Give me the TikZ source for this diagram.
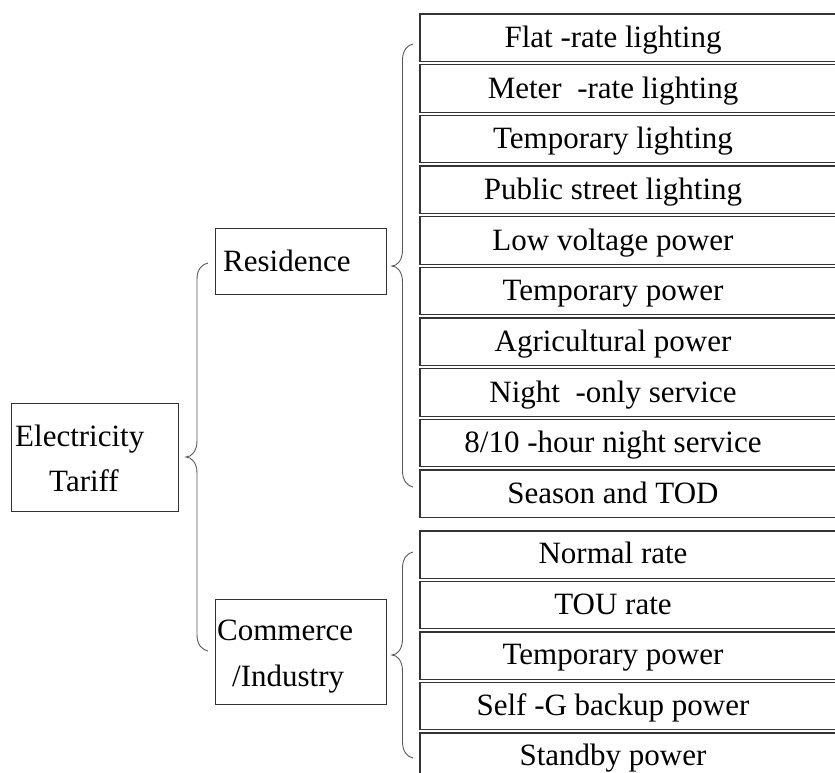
\documentclass[tikz,border=0pt]{standalone}
\usepackage{fontspec}
\setmainfont{Liberation Serif}
\usetikzlibrary{calc}
\tikzset{
  itembox/.style={anchor=north west, minimum width=430pt, minimum height=47pt, inner sep=0pt},
  boxline/.style={draw=black!80, line width=1.1pt},
  mainbox/.style={draw=black!80, line width=1pt, anchor=north west, inner sep=0pt},
  lbl/.style={font=\fontsize{31pt}{36pt}\selectfont, anchor=base, inner sep=0pt},
  lblw/.style={lbl, anchor=base west},
  bracestyle/.style={draw=black!65, line width=0.9pt}
}
\newcommand\mybrace[5]{% xend, ytop, ybot, ytip, depth
  \draw[bracestyle] (#1,#2) .. controls (#1-#5*0.5,#2+1) and (#1-#5,#2+6) .. (#1-#5,#2+16)
    -- (#1-#5,#4-16) .. controls (#1-#5,#4-6) and (#1-#5*1.5,#4) .. (#1-#5*2,#4)
    .. controls (#1-#5*1.5,#4) and (#1-#5,#4+6) .. (#1-#5,#4+16)
    -- (#1-#5,#3-16) .. controls (#1-#5,#3-6) and (#1-#5*0.5,#3-1) .. (#1,#3);}
\begin{document}
\begin{tikzpicture}[x=1pt,y=-1pt]
\useasboundingbox (0,0) rectangle (835,773);
% main boxes
\node[mainbox, minimum width=167pt, minimum height=108pt] (elec) at (11,403) {};
\node[lblw] (elect1) at (15,446) {Electricity};
\node[lbl] (elect2) at (84,491) {Tariff};
\node[mainbox, minimum width=171pt, minimum height=66pt] (res) at (215,228) {};
\node[lblw] (rest) at (223,271) {Residence};
\node[mainbox, minimum width=171pt, minimum height=105pt] (com) at (215,599) {};
\node[lblw] (comt1) at (217,640) {Commerce};
\node[lblw] (comt2) at (232,686) {/Industry};
% residence items
\foreach \i/\t in {0/{Flat -rate lighting},1/{Meter~ -rate lighting},2/{Temporary lighting},3/{Public street lighting},4/{Low voltage power},5/{Temporary power},6/{Agricultural power},7/{Night~ -only service},8/{8/10 -hour night service},9/{Season and TOD}}{
  \node[itembox] (r\i) at (420,{14+50.67*\i}) {};
  \draw[boxline] (r\i.north east) -- (r\i.north west) -- (r\i.south west) -- (r\i.south east);
  \node[lbl] (rt\i) at ($(r\i.north west)+(193,33.5)$) {\t};
}
% commerce items
\foreach \i/\t in {0/{Normal rate},1/{TOU rate},2/{Temporary power},3/{Self -G backup power},4/{Standby power}}{
  \node[itembox] (c\i) at (420,{531+50.5*\i}) {};
  \draw[boxline] (c\i.north east) -- (c\i.north west) -- (c\i.south west) -- (c\i.south east);
  \node[lbl] (ct\i) at ($(c\i.north west)+(193,32.5)$) {\t};
}
% braces
\mybrace{208}{263}{651}{457}{11}
\mybrace{413}{44}{487}{266}{10.5}
\mybrace{413}{552}{758}{655}{10.5}
\end{tikzpicture}
\end{document}
